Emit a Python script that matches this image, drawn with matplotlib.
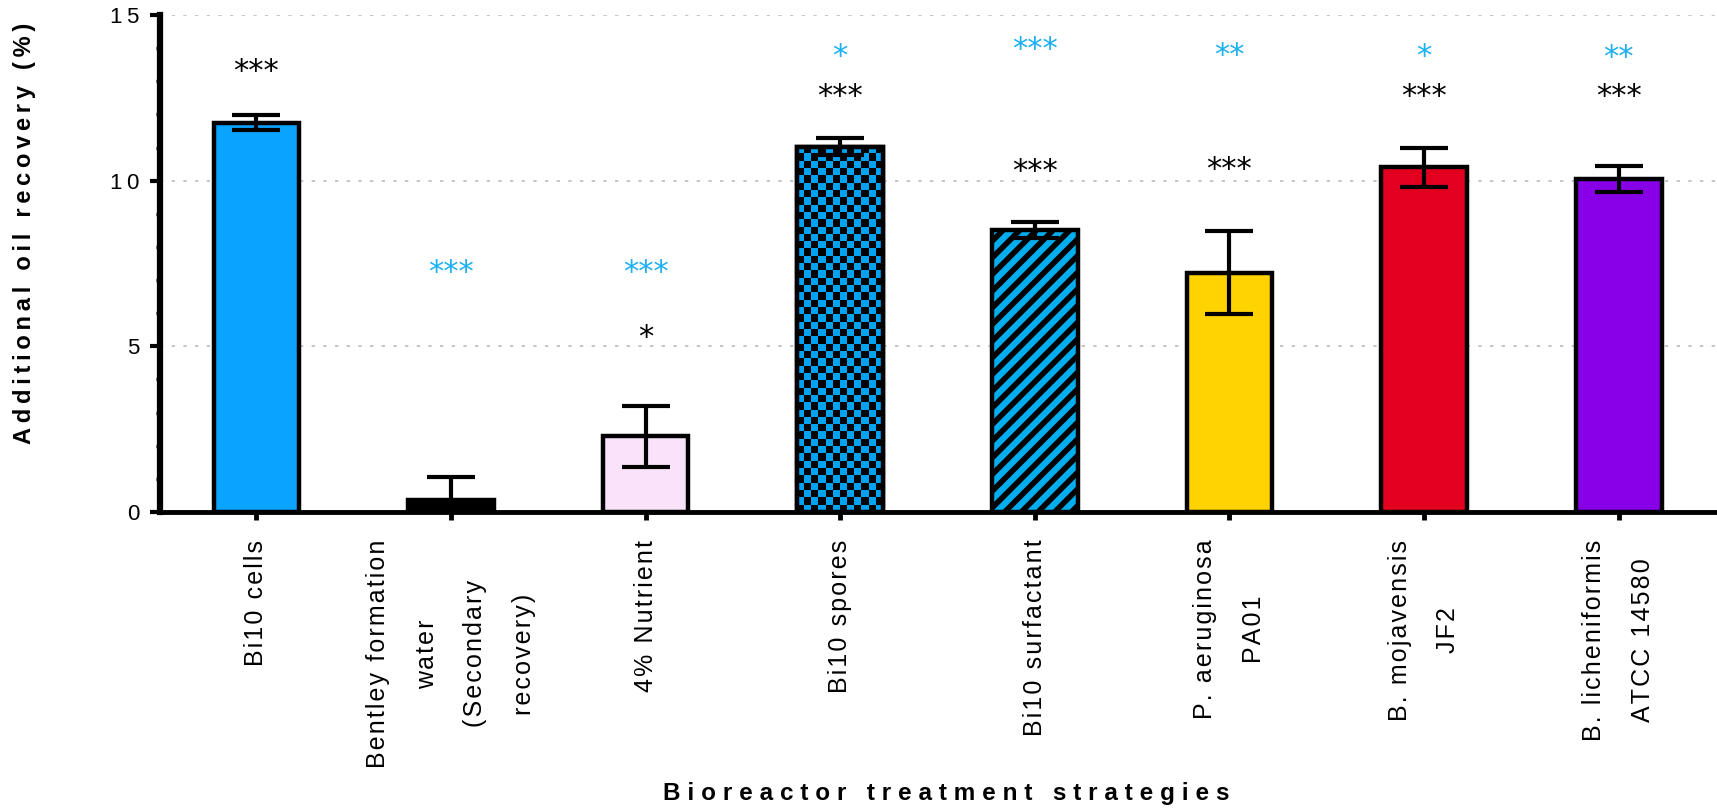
import numpy as np
import matplotlib
matplotlib.use('Agg')
import matplotlib.pyplot as plt
from matplotlib.colors import ListedColormap

plt.rcParams['font.family'] = ['Liberation Sans', 'DejaVu Sans']
plt.rcParams['hatch.linewidth'] = 4

# data
categories = ['Bi10 cells', 'Bentley formation\nwater\n(Secondary\nrecovery)', '4% Nutrient',
              'Bi10 spores', 'Bi10 surfactant', 'P. aeruginosa\nPA01', 'B. mojavensis\nJF2',
              'B. licheniformis\nATCC 14580']
recovery = [11.75, 0.35, 2.28, 11.03, 8.50, 7.22, 10.40, 10.05]
errors = [0.22, 0.70, 0.92, 0.25, 0.24, 1.25, 0.58, 0.40]
black_stars = ['***', '', '*', '***', '***', '***', '***', '***']
black_star_y = [13.55, 0, 5.5, 12.8, 10.53, 10.57, 12.79, 12.79]
blue_stars = ['', '***', '***', '*', '***', '**', '*', '**']
blue_star_y = [0, 7.46, 7.46, 14.0, 14.2, 14.02, 14.0, 13.95]
yticks = [0, 5, 10, 15]

colors = ['#0AA3FF', '#000000', '#F9E2FA', '#00A3F2', '#00AEEF', '#FFD300', '#E2001E', '#8800E8']
hatches = ['', '', '', '', '//', '', '', '']
CHECKER = 3
STAR_BLUE = '#1CB0F0'


def spaced(s, sp='\u200a'):
    """Fake letter spacing with thin unicode spaces."""
    return '\n'.join(sp.join(line) for line in s.split('\n'))


W, H, DPI = 17.17, 8.10, 100
fig = plt.figure(figsize=(W, H), dpi=DPI)
ax_box = [160 / 1717, 1 - 512 / 810, 1557 / 1717, 497 / 810]
ax = fig.add_axes(ax_box)

x = np.arange(len(categories))
bw = 0.44
bars = ax.bar(x, recovery, width=bw, color=colors, edgecolor='black', linewidth=3.2,
              hatch=hatches, zorder=2)

# checkerboard fill for the spores bar
px_x = ax_box[2] * W * DPI / 8.0
px_y = ax_box[3] * H * DPI / 15.0
cell = 7.3
x0, x1 = x[CHECKER] - bw / 2, x[CHECKER] + bw / 2
h = recovery[CHECKER]
nx = int(round(bw * px_x / cell))
ny = int(round(h * px_y / cell))
checker = np.indices((ny, nx)).sum(axis=0) % 2
ax.imshow(checker, extent=(x0, x1, 0, h), origin='lower', aspect='auto',
          cmap=ListedColormap(['black', colors[CHECKER]]), interpolation='nearest',
          clip_path=bars[CHECKER], zorder=2.1)
ax.bar(x[CHECKER], h, width=bw, fill=False, edgecolor='black', linewidth=3.2, zorder=2.2)

ax.errorbar(x, recovery, yerr=errors, fmt='none', ecolor='black', elinewidth=3,
            capsize=17, capthick=3, zorder=4)

for xi, s, yv in zip(x, black_stars, black_star_y):
    if s:
        ax.annotate(s, (xi, yv), xytext=(0, -12), textcoords='offset points',
                    ha='center', va='baseline', fontsize=22, family='DejaVu Sans', color='black')
for xi, s, yv in zip(x, blue_stars, blue_star_y):
    if s:
        ax.annotate(s, (xi, yv), xytext=(0, -12), textcoords='offset points',
                    ha='center', va='baseline', fontsize=22, family='DejaVu Sans', color=STAR_BLUE)

ax.set_xlim(-0.495, 7.505)
ax.set_ylim(0, 15)
ax.set_yticks(yticks)
ax.set_yticklabels([spaced(str(t), '\u2009') for t in yticks], fontsize=16)
ax.set_yticks(np.arange(0, 15, 1), minor=True)
ax.set_xticks(x)
ax.set_xticklabels([spaced(c) for c in categories], rotation=90, ha='center', va='top',
                   fontsize=18, linespacing=2.3)

for side in ('top', 'right'):
    ax.spines[side].set_visible(False)
ax.spines['left'].set_linewidth(4.5)
ax.spines['bottom'].set_linewidth(3.5)
ax.tick_params(axis='y', which='major', length=7, width=3, pad=8)
ax.tick_params(axis='y', which='minor', length=3, width=2.5)
ax.tick_params(axis='x', length=6, width=3.5, pad=14)

ax.yaxis.grid(True, linestyle=(0, (2, 5)), color='#BBBBBB', linewidth=1.2)
ax.set_axisbelow(True)

ax.set_ylabel(spaced('Additional oil recovery (%)', '\u2009'), fontsize=17, fontweight='bold')
ax.yaxis.set_label_coords(-0.087, 0.56)
ax.yaxis.label.set_verticalalignment('center')
ax.set_xlabel(spaced('Bioreactor treatment strategies', '\u2009\u200a'), fontsize=17.5,
              fontweight='bold')
ax.xaxis.set_label_coords(0.505, -0.566)
ax.xaxis.label.set_verticalalignment('center')

fig.savefig('out.png', dpi=DPI)
